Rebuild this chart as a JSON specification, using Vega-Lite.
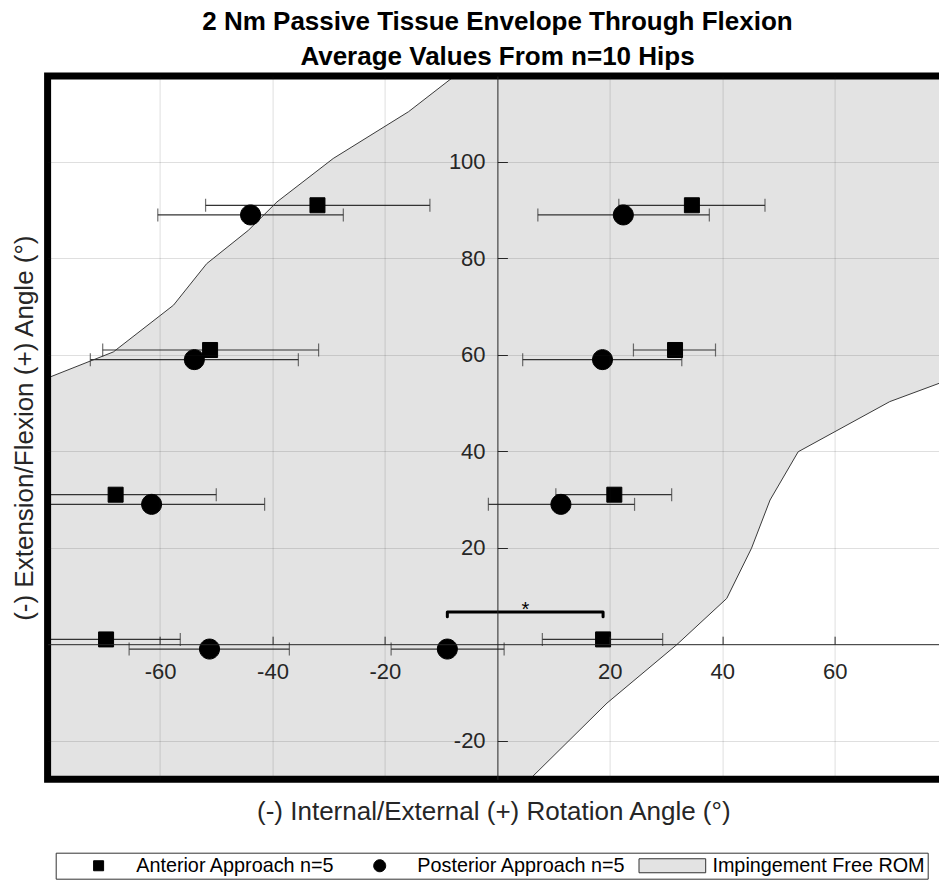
{
  "$schema": "https://vega.github.io/schema/vega-lite/v6.json",
  "width": 891.4,
  "height": 703.3,
  "autosize": {"type": "none"},
  "padding": {"left": 47.6, "top": 76, "right": 0, "bottom": 100.7},
  "background": "white",
  "title": {
    "text": ["2 Nm Passive Tissue Envelope Through Flexion", "Average Values From n=10 Hips"],
    "fontSize": 26,
    "fontWeight": "bold",
    "color": "#000000",
    "lineHeight": 35,
    "anchor": "middle",
    "offset": 2.2,
    "dx": 4.2
  },
  "datasets": {
    "poly": [
      {"i": 0, "x": -7.5, "y": 117.9},
      {"i": 1, "x": -15.8, "y": 110.4},
      {"i": 2, "x": -29.2, "y": 100.7},
      {"i": 3, "x": -39.2, "y": 91.7},
      {"i": 4, "x": -44.3, "y": 85.8},
      {"i": 5, "x": -51.7, "y": 78.9},
      {"i": 6, "x": -57.6, "y": 70.3},
      {"i": 7, "x": -68.3, "y": 60.6},
      {"i": 8, "x": -80, "y": 55.2},
      {"i": 9, "x": -95, "y": 50},
      {"i": 10, "x": -95, "y": -40},
      {"i": 11, "x": 5.5, "y": -28.3},
      {"i": 12, "x": 19.5, "y": -12.2},
      {"i": 13, "x": 31.9, "y": -0.1},
      {"i": 14, "x": 40.8, "y": 9.5},
      {"i": 15, "x": 45.2, "y": 19.9},
      {"i": 16, "x": 48.5, "y": 29.9},
      {"i": 17, "x": 53.5, "y": 39.9},
      {"i": 18, "x": 69.8, "y": 50.3},
      {"i": 19, "x": 78.6, "y": 54.1},
      {"i": 20, "x": 82, "y": 55.6},
      {"i": 21, "x": 95, "y": 60},
      {"i": 22, "x": 95, "y": 130},
      {"i": 23, "x": -5, "y": 130}
    ],
    "pts": [
      {"series": "Anterior Approach n=5", "flexion": 90, "x": -32.0, "y": 91, "lo": -51.9, "hi": -12.0},
      {"series": "Anterior Approach n=5", "flexion": 60, "x": -51.1, "y": 61, "lo": -70.2, "hi": -31.8},
      {"series": "Anterior Approach n=5", "flexion": 30, "x": -67.9, "y": 31, "lo": -85.8, "hi": -50.0},
      {"series": "Anterior Approach n=5", "flexion": 0, "x": -69.6, "y": 1, "lo": -82.8, "hi": -56.4},
      {"series": "Anterior Approach n=5", "flexion": 90, "x": 34.6, "y": 91, "lo": 21.6, "hi": 47.6},
      {"series": "Anterior Approach n=5", "flexion": 60, "x": 31.6, "y": 61, "lo": 24.2, "hi": 38.8},
      {"series": "Anterior Approach n=5", "flexion": 30, "x": 20.8, "y": 31, "lo": 10.4, "hi": 31.0},
      {"series": "Anterior Approach n=5", "flexion": 0, "x": 18.8, "y": 1, "lo": 8.0, "hi": 29.4},
      {"series": "Posterior Approach n=5", "flexion": 90, "x": -43.9, "y": 89, "lo": -60.4, "hi": -27.4},
      {"series": "Posterior Approach n=5", "flexion": 60, "x": -53.9, "y": 59, "lo": -72.4, "hi": -35.4},
      {"series": "Posterior Approach n=5", "flexion": 30, "x": -61.5, "y": 29, "lo": -81.6, "hi": -41.4},
      {"series": "Posterior Approach n=5", "flexion": 0, "x": -51.2, "y": -1, "lo": -65.5, "hi": -37.0},
      {"series": "Posterior Approach n=5", "flexion": 90, "x": 22.4, "y": 89, "lo": 7.2, "hi": 37.7},
      {"series": "Posterior Approach n=5", "flexion": 60, "x": 18.7, "y": 59, "lo": 4.5, "hi": 32.8},
      {"series": "Posterior Approach n=5", "flexion": 30, "x": 11.3, "y": 29, "lo": -1.6, "hi": 24.4},
      {"series": "Posterior Approach n=5", "flexion": 0, "x": -8.9, "y": -1, "lo": -18.9, "hi": 1.2}
    ],
    "bracket": [
      {"i": 0, "x": -8.9, "y": 5.7},
      {"i": 1, "x": -8.9, "y": 6.7},
      {"i": 2, "x": 18.8, "y": 6.7},
      {"i": 3, "x": 18.8, "y": 5.7}
    ],
    "star": [
      {"x": 5.0, "y": 6.7, "t": "*"}
    ],
    "frame": [
      {"x1": -80, "x2": 80, "y1": -28, "y2": 117.8}
    ]
  },
  "layer": [
    {
      "data": {"name": "poly"},
      "mark": {"type": "line", "fill": "#e3e3e3", "stroke": "#3a3a3a", "strokeWidth": 1, "clip": true, "strokeJoin": "round"},
      "encoding": {
        "x": {
          "field": "x", "type": "quantitative",
          "scale": {"domain": [-80, 78.55], "nice": false, "zero": false},
          "axis": {
            "title": "(-) Internal/External (+) Rotation Angle (°)",
            "values": [-60, -40, -20, 20, 40, 60],
            "labelExpr": "'' + datum.value",
            "offset": -135.1,
            "tickSize": -8,
            "labelPadding": 25.4,
            "titleY": 174.8,
            "titleBaseline": "alphabetic",
            "zindex": 1
          }
        },
        "y": {
          "field": "y", "type": "quantitative",
          "scale": {"domain": [-28, 117.8], "nice": false, "zero": false},
          "axis": {
            "title": "(-) Extension/Flexion (+) Angle (°)",
            "values": [-20, 20, 40, 60, 80, 100],
            "labelExpr": "'' + datum.value",
            "offset": -449.8,
            "tickSize": -10,
            "labelPadding": 22.3,
            "titleX": -464.85,
            "titleY": 351.65,
            "titleAngle": -90,
            "titleBaseline": "alphabetic",
            "zindex": 1
          }
        },
        "order": {"field": "i", "type": "quantitative"}
      }
    },
    {
      "data": {"name": "pts"},
      "mark": {"type": "rule", "color": "#333333", "strokeWidth": 1.2, "clip": true},
      "encoding": {
        "x": {"field": "lo", "type": "quantitative"},
        "x2": {"field": "hi"},
        "y": {"field": "y", "type": "quantitative"}
      }
    },
    {
      "data": {"name": "pts"},
      "mark": {"type": "tick", "orient": "vertical", "size": 13, "thickness": 1.2, "color": "#333333", "clip": true},
      "encoding": {
        "x": {"field": "lo", "type": "quantitative"},
        "y": {"field": "y", "type": "quantitative"}
      }
    },
    {
      "data": {"name": "pts"},
      "mark": {"type": "tick", "orient": "vertical", "size": 13, "thickness": 1.2, "color": "#333333", "clip": true},
      "encoding": {
        "x": {"field": "hi", "type": "quantitative"},
        "y": {"field": "y", "type": "quantitative"}
      }
    },
    {
      "data": {"name": "pts"},
      "mark": {"type": "point", "filled": true, "opacity": 1, "strokeWidth": 1, "clip": true},
      "encoding": {
        "x": {"field": "x", "type": "quantitative"},
        "y": {"field": "y", "type": "quantitative"},
        "shape": {
          "field": "series", "type": "nominal", "title": " ",
          "scale": {
            "domain": ["Anterior Approach n=5", "Posterior Approach n=5", "Impingement Free ROM"],
            "range": ["square", "M-6.3,0M1.2,0A1.2,1.2,0,1,1,-1.2,0A1.2,1.2,0,1,1,1.2,0Z", "M-7.16,-1.4H6.18V1.4H-7.16Z"]
          },
          "legend": {
            "orient": "none", "legendX": 8.1, "legendY": 776.7,
            "direction": "horizontal",
            "titleOrient": "left", "titlePadding": 30, "titleFontSize": 11,
            "labelFontSize": 19.8, "labelColor": "#000000", "labelLimit": 500,
            "symbolSize": 100, "symbolStrokeWidth": 1, "labelOffset": 27.7, "columnPadding": 11.1,
            "padding": 3, "strokeColor": "#333333", "fillColor": "#ffffff"
          }
        },
        "fill": {
          "field": "series", "type": "nominal", "title": " ",
          "scale": {
            "domain": ["Anterior Approach n=5", "Posterior Approach n=5", "Impingement Free ROM"],
            "range": ["#000000", "#000000", "#e3e3e3"]
          }
        },
        "stroke": {
          "field": "series", "type": "nominal", "title": " ",
          "scale": {
            "domain": ["Anterior Approach n=5", "Posterior Approach n=5", "Impingement Free ROM"],
            "range": ["#000000", "#000000", "#333333"]
          }
        },
        "size": {
          "field": "series", "type": "nominal", "legend": null,
          "scale": {
            "type": "point", "padding": 0,
            "domain": ["Anterior Approach n=5", "Posterior Approach n=5"],
            "range": [225, 278]
          }
        }
      }
    },
    {
      "data": {"name": "bracket"},
      "mark": {"type": "line", "color": "#000000", "strokeWidth": 3, "strokeJoin": "round", "strokeCap": "round"},
      "encoding": {
        "x": {"field": "x", "type": "quantitative"},
        "y": {"field": "y", "type": "quantitative"},
        "order": {"field": "i", "type": "quantitative"}
      }
    },
    {
      "data": {"name": "star"},
      "mark": {"type": "text", "fontSize": 20, "baseline": "alphabetic", "align": "center", "dy": 4, "color": "#000000"},
      "encoding": {
        "x": {"field": "x", "type": "quantitative"},
        "y": {"field": "y", "type": "quantitative"},
        "text": {"field": "t"}
      }
    },
    {
      "data": {"name": "frame"},
      "mark": {"type": "rect", "fill": null, "stroke": "#000000", "strokeWidth": 7},
      "encoding": {
        "x": {"field": "x1", "type": "quantitative"},
        "x2": {"field": "x2"},
        "y": {"field": "y1", "type": "quantitative"},
        "y2": {"field": "y2"}
      }
    }
  ],
  "config": {
    "font": "Liberation Sans",
    "view": {"stroke": null},
    "axis": {
      "labelFontSize": 22,
      "labelColor": "#262626",
      "titleFontSize": 26,
      "titleFontWeight": "normal",
      "titleColor": "#262626",
      "domainColor": "#262626",
      "domainWidth": 1,
      "tickColor": "#262626",
      "tickWidth": 1,
      "gridColor": "#262626",
      "gridOpacity": 0.15,
      "grid": true,
      "labelFlush": false,
      "labelOverlap": false,
      "labelBound": false
    }
  }
}
